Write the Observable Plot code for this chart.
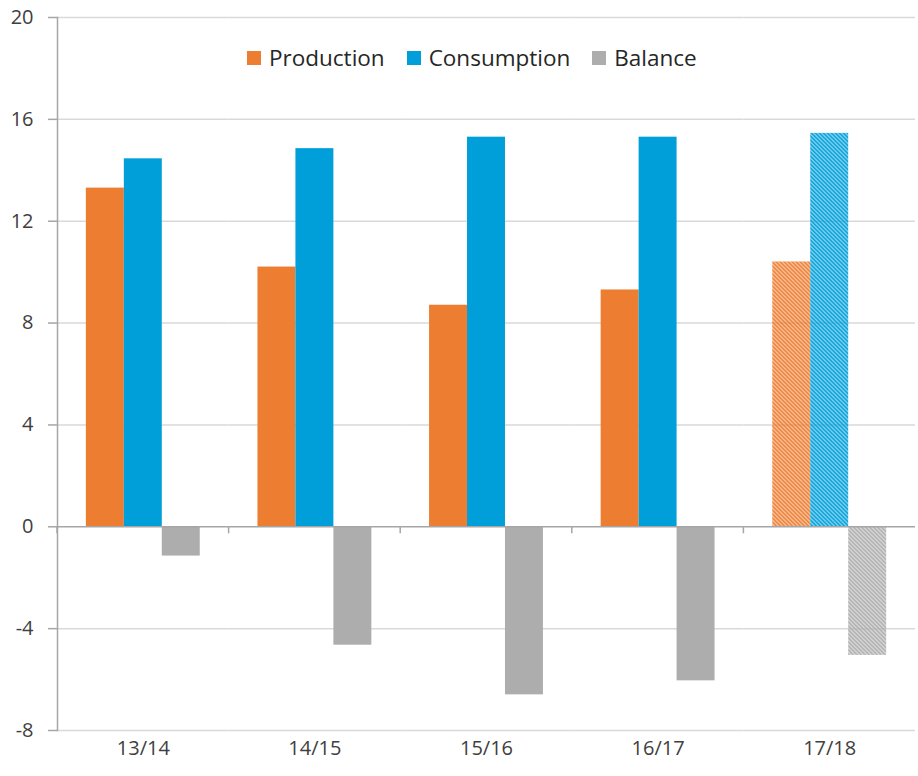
<!DOCTYPE html>
<html><head><meta charset="utf-8">
<script src="https://cdn.jsdelivr.net/npm/d3@7"></script>
<script src="https://cdn.jsdelivr.net/npm/@observablehq/plot@0.6"></script>
<style>
body{margin:0;background:#fff;}
#wrap{position:relative;width:918px;height:776px;}
#legend{position:absolute;top:42px;left:247px;display:flex;align-items:center;font-family:"Open Sans",sans-serif;font-size:22.5px;color:#262626;white-space:nowrap;}
#legend .item{display:flex;align-items:center;margin-right:22px;}
#legend .sw{width:14px;height:14px;margin-right:8px;}
</style></head><body>
<div id="wrap"><div id="chart"></div><div id="legend"></div></div>
<script>
const years = ["13/14","14/15","15/16","16/17","17/18"];
const production = [13.3, 10.2, 8.7, 9.3, 10.4];
const consumption = [14.45, 14.85, 15.3, 15.3, 15.45];
const balance = [-1.15, -4.65, -6.6, -6.05, -5.05];
const estimated = [false, false, false, false, true];
const seriesNames = ["Production", "Consumption", "Balance"];
const seriesColors = ["#ED7D31", "#009FDA", "#ADADAD"];
const yTicks = [-8, -4, 0, 4, 8, 12, 16, 20];

const seriesValues = [production, consumption, balance];
const table = [];
years.forEach((year, i) => {
  seriesNames.forEach((s, j) => {
    table.push({year, series: s, value: seriesValues[j][i], key: estimated[i] ? s + "*" : s});
  });
});

const colorDomain = [...seriesNames, ...seriesNames.map(s => s + "*")];
const colorRange = [...seriesColors, ...seriesNames.map((s, j) => `url(#hatch${j})`)];

function boundaryTicks(index, scales, values, dimensions, context) {
  const y0 = scales.y(0);
  const x0 = scales.x.range()[0];
  const line = d3.create("svg:line")
    .attr("x1", x0).attr("x2", x0)
    .attr("y1", y0).attr("y2", y0 + 7)
    .attr("stroke", "#a6a6a6").attr("stroke-width", 1.5);
  return line.node();
}

const chart = Plot.plot({
  width: 918,
  height: 776,
  marginLeft: 57,
  marginRight: 3,
  marginTop: 17,
  marginBottom: 46,
  style: {fontFamily: "'Open Sans', sans-serif", fontSize: "20px", color: "#404040", background: "#fff"},
  fx: {domain: years, padding: 0, label: null, round: false},
  x: {domain: seriesNames, paddingInner: 0, paddingOuter: 0.76, axis: null, round: false},
  y: {domain: [-8, 20], label: null},
  color: {domain: colorDomain, range: colorRange},
  marks: [
    Plot.gridY(yTicks.filter(t => t !== 0), {stroke: "#d9d9d9", strokeOpacity: 1, strokeWidth: 1.5}),
    Plot.barY(table, {fx: "year", x: "series", y: "value", fill: "key"}),
    Plot.ruleY([0], {stroke: "#a6a6a6", strokeWidth: 1.5}),
    boundaryTicks,
    Plot.frame({anchor: "left", stroke: "#a6a6a6", strokeWidth: 1.5, facetAnchor: "left"}),
    Plot.axisY({ticks: yTicks, tickSize: 9, tickPadding: 15, tickFormat: d => String(d), stroke: "#a6a6a6", strokeWidth: 1.5, fontSize: 20, fill: "#404040"}),
    Plot.axisFx({anchor: "bottom", tickSize: 0, tickPadding: 10, fontSize: 20, fill: "#404040", label: null})
  ]
});

const defs = document.createElementNS("http://www.w3.org/2000/svg", "defs");
defs.innerHTML = seriesColors.map((c, j) => `
  <pattern id="hatch${j}" patternUnits="userSpaceOnUse" width="4" height="4">
    <rect width="4" height="4" fill="${c}" fill-opacity="0.35"></rect>
    <path d="M-1,-1 L5,5 M3,-1 L5,1 M-1,3 L1,5" stroke="${c}" stroke-width="1.6"></path>
  </pattern>`).join("");
chart.prepend(defs);
document.getElementById("chart").appendChild(chart);

const legend = document.getElementById("legend");
seriesNames.forEach((s, j) => {
  const item = document.createElement("div");
  item.className = "item";
  const sw = document.createElement("div");
  sw.className = "sw";
  sw.style.background = seriesColors[j];
  const label = document.createElement("span");
  label.textContent = s;
  item.appendChild(sw);
  item.appendChild(label);
  legend.appendChild(item);
});
</script>
</body></html>
